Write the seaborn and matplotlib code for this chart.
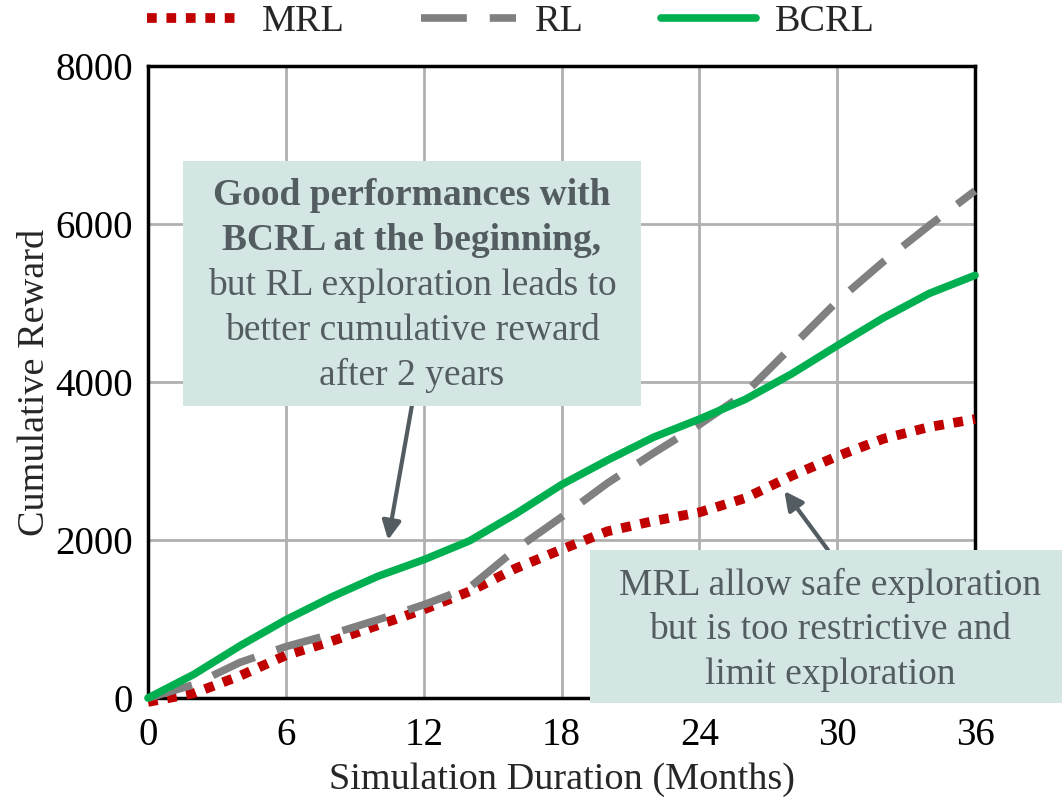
import pandas as pd
import matplotlib
matplotlib.use("Agg")
import matplotlib.pyplot as plt
from matplotlib.patches import Rectangle
import seaborn as sns

# values
months = [0, 2, 4, 6, 8, 10, 12, 14, 16, 18, 20, 22, 24, 26, 28, 30, 32, 34, 36]
mrl = [-50, 60, 280, 540, 720, 920, 1120, 1350, 1640, 1880, 2110, 2240, 2350, 2530, 2810, 3060, 3280, 3430, 3530]
rl = [0, 170, 450, 650, 810, 990, 1180, 1400, 1880, 2290, 2720, 3100, 3460, 3860, 4440, 5020, 5520, 5980, 6420]
bcrl = [0, 300, 660, 990, 1280, 1540, 1750, 1990, 2330, 2700, 3010, 3300, 3530, 3780, 4100, 4460, 4810, 5120, 5350]

x_ticks = [0, 6, 12, 18, 24, 30, 36]
y_ticks = [0, 2000, 4000, 6000, 8000]

box_color = "#d4e6e4"
note_color = "#525c61"

sns.set_style("white")
plt.rcParams["font.family"] = ["Liberation Serif", "DejaVu Serif"]

df = pd.DataFrame({"month": months, "MRL": mrl, "RL": rl, "BCRL": bcrl})

fig = plt.figure(figsize=(10.62, 8), dpi=100)
ax = fig.add_axes([148 / 1062, 1 - 698 / 800, (975 - 148) / 1062, (698 - 66) / 800])

sns.lineplot(data=df, x="month", y="MRL", ax=ax, color="#c00000", lw=7,
             linestyle=(0, (1, 1)), label="MRL")
sns.lineplot(data=df, x="month", y="RL", ax=ax, color="#808080", lw=5.5,
             linestyle=(0, (6, 3)), label="RL")
sns.lineplot(data=df, x="month", y="BCRL", ax=ax, color="#00b050", lw=5.5,
             label="BCRL")
for ln in ax.lines:
    ln.set_dash_capstyle("butt")
    ln.set_clip_on(False)
    ln.set_zorder(3)

ax.set_xlim(0, 36)
ax.set_ylim(0, 8000)
ax.set_xticks(x_ticks)
ax.set_yticks(y_ticks)
ax.grid(True, color="#b0b0b0", lw=2)
ax.set_axisbelow(True)
for sp in ax.spines.values():
    sp.set_color("black")
    sp.set_linewidth(2.5)
ax.tick_params(direction="out", length=7, width=2.5, labelsize=28, colors="black", pad=7)
ax.tick_params(axis="y", pad=4)
ax.set_xlabel("Simulation Duration (Months)", fontsize=27.5, labelpad=6)
ax.set_ylabel("Cumulative Reward", fontsize=27.5, labelpad=2)

leg = ax.legend(loc="center", bbox_to_anchor=(511 / 1062, 1 - 22 / 800),
                bbox_transform=fig.transFigure, ncol=3, frameon=False,
                fontsize=27.5, handlelength=2.5, handletextpad=0.5, columnspacing=2.0)

# annotation boxes
fig.patches.append(Rectangle((183 / 1062, 1 - 406 / 800), (641 - 183) / 1062, (406 - 161) / 800,
                             transform=fig.transFigure, facecolor=box_color, edgecolor="none", zorder=5))
fig.patches.append(Rectangle((590 / 1062, 1 - 703 / 800), (1062 - 590) / 1062, (703 - 550) / 800,
                             transform=fig.transFigure, facecolor=box_color, edgecolor="none", zorder=5))

lines1 = [("Good performances with", "bold", 205), ("BCRL at the beginning,", "bold", 250),
          ("but RL exploration leads to", "normal", 295), ("better cumulative reward", "normal", 340),
          ("after 2 years", "normal", 385)]
for txt, w, yb in lines1:
    fig.text(412 / 1062, 1 - yb / 800, txt, ha="center", va="baseline", fontsize=27,
             fontweight=w, color=note_color, zorder=6)

lines2 = [("MRL allow safe exploration", 595), ("but is too restrictive and", 639),
          ("limit exploration", 684)]
for txt, yb in lines2:
    fig.text(830 / 1062, 1 - yb / 800, txt, ha="center", va="baseline", fontsize=27,
             color=note_color, zorder=6)

arrow = dict(arrowstyle="-|>", color=note_color, lw=3, mutation_scale=28, shrinkA=0, shrinkB=0)
ax.annotate("", xy=(10.45, 2000), xycoords="data", xytext=(412 / 1062, 1 - 405 / 800),
            textcoords="figure fraction", arrowprops=arrow, zorder=4)
ax.annotate("", xy=(27.7, 2620), xycoords="data", xytext=(828 / 1062, 1 - 550 / 800),
            textcoords="figure fraction", arrowprops=arrow, zorder=4)

fig.savefig("out.png", dpi=100)
